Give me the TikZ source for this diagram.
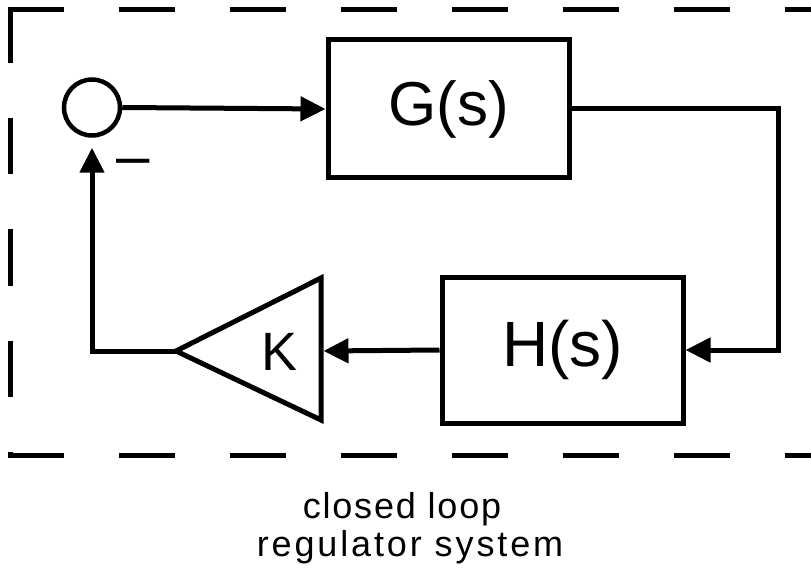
\documentclass[tikz,border=0pt]{standalone}
\usepackage{fontspec}
\setmainfont{Liberation Sans}
\usetikzlibrary{arrows.meta}
\begin{document}
\begin{tikzpicture}[x=1pt,y=-1pt,
  blk/.style={draw,line width=5pt,rectangle,minimum width=241pt,inner sep=0pt},
  conn/.style={line width=5pt},
  arr/.style={conn,-{Triangle[length=25pt,width=24pt]}},
  frame/.style={line width=5pt,dash pattern=on 56pt off 55pt},
  caption/.style={font=\fontsize{36}{36}\selectfont,anchor=base}]
\useasboundingbox (0,0) rectangle (811,572);
\begin{scope}
\clip (0,0) rectangle (811,572);
\draw[frame] (7.5,10) -- (830,10);
\draw[frame] (10,7.5) -- (10,457.5);
\draw[frame] (7.5,455) -- (830,455);
\end{scope}
\node[draw,circle,line width=4.5pt,minimum size=56pt,inner sep=0pt] (sum) at (92,107.5) {};
\node[blk,minimum height=138pt,font=\fontsize{62}{62}\selectfont] (G) at (448.5,109) {\raisebox{-5pt}{G(s)}};
\node[blk,minimum height=146pt,font=\fontsize{64}{64}\selectfont] (H) at (562.5,350) {\raisebox{-7pt}{H(s)}};
\coordinate (ktip) at (176,351);
\coordinate (kr) at (323.5,351);
\draw[line width=5pt,line join=miter] (ktip) -- (321,278) -- (321,420) -- cycle;
\node[font=\fontsize{54}{54}\selectfont] (K) at (280,352) {K};
\node[font=\fontsize{60}{60}\selectfont] (minus) at (133,168) {–};
\draw[arr] (sum.east) -- (G.west);
\draw[arr] (G.east) -- ++(207,0) |- (H.east);
\draw[arr] (H.west) -- (kr);
\draw[arr,shorten >=10pt] (ktip) -| (sum.south);
\node[caption] (t1) at (402,518) {\addfontfeature{LetterSpace=5}closed loop};
\node[caption] (t2) at (410,556) {\addfontfeature{LetterSpace=8}regulator system};
\end{tikzpicture}
\end{document}
